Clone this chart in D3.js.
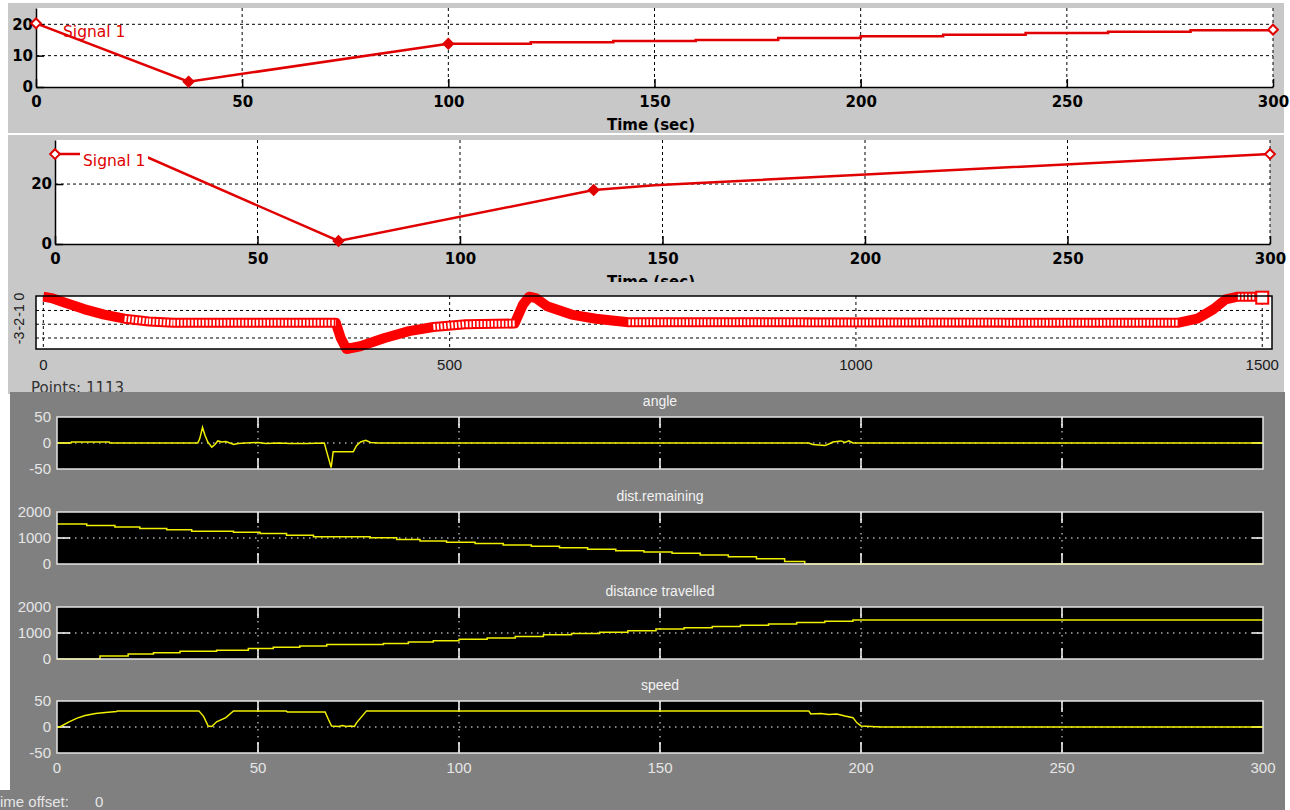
<!DOCTYPE html>
<html>
<head>
<meta charset="utf-8">
<script src="https://cdn.jsdelivr.net/npm/d3@7"></script>
<style>
body { margin: 0; background: #fff; }
svg { display: block; font-family: "Liberation Sans", Arial, sans-serif; }
</style>
</head>
<body>
<svg id="chart" width="1290" height="810"></svg>
<script>
// ---- signal builder, group 1 ----
var grp1Ramp = [[0, 20.3], [37, 1.7], [100, 13.8]];
var grp1Steps = [[100, 13.8], [120, 14.3], [140, 14.7], [160, 15.0], [180, 15.6], [200, 16.2],
    [220, 16.7], [240, 17.2], [260, 17.6], [280, 18.1], [300, 18.3]];
var grp1Marks = [[0, 20.3, "open"], [37, 1.7, "fill"], [100, 13.8, "fill"], [300, 18.3, "open"]];

// ---- signal builder, group 2 ----
var grp2Line = [[0, 30], [21, 30], [70, 1], [133, 18], [148, 19.6], [300, 30]];
var grp2Marks = [[0, 30, "open"], [70, 1, "fill"], [133, 18, "fill"], [300, 30, "open"]];

// ---- plot of 1113 points ----
var pointsLine = [[0, 0], [10, -0.1], [25, -0.4], [50, -0.9], [75, -1.3], [100, -1.6], [130, -1.8],
    [160, -1.9], [360, -1.9], [366, -3], [373, -3.8], [390, -3.6], [420, -3.0], [450, -2.5],
    [480, -2.2], [520, -2.0], [580, -1.95], [590, -0.6], [598, 0], [606, -0.1], [620, -0.7],
    [650, -1.3], [680, -1.6], [720, -1.85], [1396, -1.9], [1420, -1.6], [1440, -0.9],
    [1455, -0.2], [1470, 0], [1500, 0]];

// ---- scope signals ----
var angleData = [[0, 0], [3.5, 0], [3.6, 2], [13, 2], [13.1, 0], [35, 0], [35.5, 8], [36.2, 30],
    [36.8, 15], [37.5, 2], [38.5, -8], [39.3, -3], [40, 4], [41, 2], [42, 3], [43, 0], [44, -3],
    [45, -1], [47, 0], [50, 1], [52, -1], [55, 0], [58, -1], [62, -1], [66.5, 0], [67.2, -20],
    [68.2, -47], [68.7, -17], [73.7, -17], [74.5, -5], [75.5, 2], [76.8, 5], [78, 1], [80, 0],
    [187, 0], [188, -3], [191, -5], [192, -2], [193, 2], [195, 4], [196, 1], [197, 4], [198, 0], [300, 0]];
var remainData = [[0, 1535], [7.4, 1483], [14.4, 1423], [20.6, 1370], [27.3, 1321], [33.5, 1257],
    [43.9, 1219], [50.5, 1170], [57.1, 1106], [63.8, 1045], [77.9, 1008], [84.5, 943], [90.3, 880],
    [96.9, 840], [104, 790], [111, 735], [118, 680], [125, 625], [132, 565], [139, 510], [146, 465],
    [153, 415], [160, 350], [167, 280], [174, 200], [181, 100], [186, 0], [300, 0]];
var travelData = [[0, 0], [10.7, 113], [17.7, 189], [24, 238], [30.6, 302], [39.7, 340], [47.6, 404],
    [53.8, 453], [60.4, 502], [67.1, 555], [81.2, 592], [87.4, 653], [93.6, 705], [100, 760],
    [107, 810], [114, 870], [121, 930], [128, 980], [135, 1030], [142, 1090], [149, 1150],
    [156, 1200], [163, 1250], [170, 1300], [177, 1350], [184, 1400], [191, 1450], [198, 1500], [300, 1500]];
var speedData = [[0, 0], [0.7, 0], [3, 10], [5, 17], [7, 22], [9.6, 26], [12, 28], [14.8, 30], [15, 31],
    [35.3, 31], [36.5, 20], [37.6, 2], [38.5, 1], [39.7, 10], [42, 18], [43.9, 31], [57, 31],
    [57.3, 29], [66.7, 29], [67.5, 15], [68.3, 2], [70, 1], [71, 3], [72, 1], [73, 2], [74, 1],
    [74.5, 8], [77, 31], [187, 31], [187.5, 25], [190, 26], [192, 24], [194, 25], [196, 21],
    [198, 18], [199, 8], [200, 2], [205, 0], [300, 0]];

var timeTicks = [0, 50, 100, 150, 200, 250, 300];

var svg = d3.select("#chart");
var boldFont = "DejaVu Sans, Verdana, sans-serif";

// ================= signal builder panels =================
function builderPanel(o) {
    var g = svg.append("g");
    g.append("rect").attr("x", 8).attr("y", o.bgTop).attr("width", 1276).attr("height", o.bgH)
        .attr("fill", "#c8c8c8");
    g.append("rect").attr("x", o.x0).attr("y", o.yTop).attr("width", o.x1 - o.x0)
        .attr("height", o.yBot - o.yTop).attr("fill", "#fff");

    var x = d3.scaleLinear().domain([0, 300]).range([o.x0, o.x1]);
    var y = d3.scaleLinear().domain(o.yDom).range([o.yBot, o.yTop]);

    // dashed grid
    g.selectAll(".vg").data(timeTicks.slice(1)).enter().append("line")
        .attr("x1", x).attr("x2", x).attr("y1", o.yTop).attr("y2", o.yBot)
        .attr("stroke", "#000").attr("stroke-dasharray", "3,3");
    g.selectAll(".hg").data(o.yTicks.slice(1)).enter().append("line")
        .attr("x1", o.x0).attr("x2", o.x1).attr("y1", y).attr("y2", y)
        .attr("stroke", "#000").attr("stroke-dasharray", "3,3");

    var xAxis = g.append("g").attr("transform", "translate(0," + o.yBot + ")")
        .call(d3.axisBottom(x).tickValues(timeTicks).tickSize(-8).tickSizeOuter(0).tickPadding(9));
    var yAxis = g.append("g").attr("transform", "translate(" + o.x0 + ",0)")
        .call(d3.axisLeft(y).tickValues(o.yTicks).tickSize(-8).tickSizeOuter(0).tickPadding(3));
    [xAxis, yAxis].forEach(function (a) {
        a.select(".domain").attr("stroke", "#000").attr("stroke-width", 1.5);
        a.selectAll(".tick line").attr("stroke", "#000").attr("stroke-width", 1.5);
        a.selectAll("text").attr("fill", "#000").attr("font-size", 15).attr("font-weight", "bold")
            .attr("font-family", boldFont);
    });

    g.append("text").attr("x", 651).attr("y", o.yBot + 43).attr("text-anchor", "middle")
        .attr("font-family", boldFont).attr("font-size", 15).attr("font-weight", "bold").text("Time (sec)");

    return { g: g, x: x, y: y };
}

function drawMarks(p, marks) {
    p.g.selectAll(".mk").data(marks).enter().append("path")
        .attr("transform", function (d) { return "translate(" + p.x(d[0]) + "," + p.y(d[1]) + ")"; })
        .attr("d", d3.symbol(d3.symbolDiamond2, 60))
        .attr("fill", function (d) { return d[2] == "open" ? "#fff" : "#e00000"; })
        .attr("stroke", "#e00000").attr("stroke-width", 2);
}

// group 1
var p1 = builderPanel({ bgTop: 3, bgH: 130, x0: 36, x1: 1273, yTop: 8, yBot: 87,
    yDom: [0, 25.2], yTicks: [0, 10, 20] });
var line1 = d3.line().x(function (d) { return p1.x(d[0]); }).y(function (d) { return p1.y(d[1]); });
p1.g.append("path").attr("d", line1(grp1Ramp)).attr("fill", "none")
    .attr("stroke", "#e00000").attr("stroke-width", 2.5);
p1.g.append("path").attr("d", line1.curve(d3.curveStepAfter)(grp1Steps)).attr("fill", "none")
    .attr("stroke", "#e00000").attr("stroke-width", 2.5);
drawMarks(p1, grp1Marks);
p1.g.append("text").attr("x", 63).attr("y", 37).attr("fill", "#e00000").attr("font-size", 15.5)
    .attr("font-family", "DejaVu Sans, sans-serif").text("Signal 1");

// group 2
var p2 = builderPanel({ bgTop: 135, bgH: 150, x0: 55, x1: 1270, yTop: 140, yBot: 244,
    yDom: [0, 34.7], yTicks: [0, 20] });
var line2 = d3.line().x(function (d) { return p2.x(d[0]); }).y(function (d) { return p2.y(d[1]); });
p2.g.append("path").attr("d", line2(grp2Line)).attr("fill", "none")
    .attr("stroke", "#e00000").attr("stroke-width", 2.5);
p2.g.append("rect").attr("x", 80).attr("y", 150).attr("width", 68).attr("height", 20).attr("fill", "#fff");
drawMarks(p2, grp2Marks);
p2.g.append("text").attr("x", 83).attr("y", 166).attr("fill", "#e00000").attr("font-size", 15.5)
    .attr("font-family", "DejaVu Sans, sans-serif").text("Signal 1");

// ================= points plot =================
var g3 = svg.append("g");
g3.append("rect").attr("x", 8).attr("y", 282).attr("width", 1276).attr("height", 112).attr("fill", "#c8c8c8");
var x3 = d3.scaleLinear().domain([-9, 1512]).range([36, 1272]);
var y3 = d3.scaleLinear().domain([-3.8, 0.05]).range([349, 296]);
g3.append("rect").attr("x", 36).attr("y", 296).attr("width", 1236).attr("height", 53).attr("fill", "#fff");
g3.selectAll(".vg").data([0, 500, 1000, 1500]).enter().append("line")
    .attr("x1", x3).attr("x2", x3).attr("y1", 296).attr("y2", 349)
    .attr("stroke", "#000").attr("stroke-dasharray", "3,3");
g3.selectAll(".hg").data([-1, -2, -3]).enter().append("line")
    .attr("x1", 36).attr("x2", 1272).attr("y1", y3).attr("y2", y3)
    .attr("stroke", "#000").attr("stroke-dasharray", "3,3");

var line3 = d3.line().x(function (d) { return x3(d[0]); }).y(function (d) { return y3(d[1]); });
g3.append("path").attr("d", line3(pointsLine)).attr("fill", "none")
    .attr("stroke", "#ff0000").attr("stroke-width", 10).attr("stroke-linejoin", "round");
// hatched look of the square markers on the flat stretches
var flat = [];
pointsLine.forEach(function (d, i) {
    if (i == 0) return;
    var a = pointsLine[i - 1];
    if (Math.abs(y3(d[1]) - y3(a[1])) < 3 && x3(d[0]) - x3(a[0]) > 20) flat.push([a, d]);
});
g3.selectAll(".hatch").data(flat).enter().append("path")
    .attr("d", function (d) { return line3(d); }).attr("fill", "none")
    .attr("stroke", "#fff").attr("stroke-width", 6).attr("stroke-dasharray", "2,1.6");
var last = pointsLine[pointsLine.length - 1];
g3.append("rect").attr("x", x3(last[0]) - 6).attr("y", y3(last[1]) - 5).attr("width", 12).attr("height", 12)
    .attr("fill", "#fff").attr("stroke", "#ff0000").attr("stroke-width", 2);

g3.append("rect").attr("x", 36).attr("y", 296).attr("width", 1236).attr("height", 53)
    .attr("fill", "none").attr("stroke", "#000").attr("stroke-width", 1.5);
g3.selectAll(".xt").data([0, 500, 1000, 1500]).enter().append("text")
    .attr("x", x3).attr("y", 370).attr("text-anchor", "middle").attr("font-size", 15).attr("fill", "#1a1a1a")
    .text(function (d) { return d; });
g3.selectAll(".yt").data([0, -1, -2, -3]).enter().append("text")
    .attr("transform", function (d) { return "translate(19," + y3(d) + ") rotate(-90)"; })
    .attr("text-anchor", "middle").attr("dy", "0.35em").attr("font-size", 14).attr("fill", "#1a1a1a")
    .text(function (d) { return d; });
g3.append("text").attr("x", 31).attr("y", 393).attr("font-size", 15).attr("fill", "#333")
    .attr("font-family", "DejaVu Sans, sans-serif").text("Points: 1113");

// ================= scope =================
svg.append("rect").attr("x", 10).attr("y", 392).attr("width", 1275).attr("height", 418).attr("fill", "#808080");
svg.append("rect").attr("x", 0).attr("y", 790).attr("width", 10).attr("height", 20).attr("fill", "#808080");

var xs = d3.scaleLinear().domain([0, 300]).range([57, 1263]);

function scopePanel(title, top, yDom, yTicks, gridY, data, stepped) {
    var g = svg.append("g");
    var bot = top + 52;
    var y = d3.scaleLinear().domain(yDom).range([bot, top]);
    g.append("text").attr("x", 660).attr("y", top - 11).attr("text-anchor", "middle")
        .attr("font-size", 14).attr("fill", "#f2f2f2").text(title);
    g.append("rect").attr("x", 57).attr("y", top).attr("width", 1206).attr("height", 52).attr("fill", "#000");
    // dotted grid
    g.selectAll(".vg").data(timeTicks.slice(1, -1)).enter().append("line")
        .attr("x1", xs).attr("x2", xs).attr("y1", top).attr("y2", bot)
        .attr("stroke", "#fff").attr("stroke-dasharray", "1.5,5.5");
    g.append("line").attr("x1", 57).attr("x2", 1263).attr("y1", y(gridY)).attr("y2", y(gridY))
        .attr("stroke", "#fff").attr("stroke-dasharray", "1.5,4.5");
    // inward ticks
    timeTicks.slice(1, -1).forEach(function (t) {
        g.append("line").attr("x1", xs(t)).attr("x2", xs(t)).attr("y1", top).attr("y2", top + 11)
            .attr("stroke", "#fff").attr("stroke-width", 1.5);
        g.append("line").attr("x1", xs(t)).attr("x2", xs(t)).attr("y1", bot - 11).attr("y2", bot)
            .attr("stroke", "#fff").attr("stroke-width", 1.5);
    });
    g.append("line").attr("x1", 57).attr("x2", 70).attr("y1", y(gridY)).attr("y2", y(gridY))
        .attr("stroke", "#fff").attr("stroke-width", 1.5);
    g.append("line").attr("x1", 1252).attr("x2", 1263).attr("y1", y(gridY)).attr("y2", y(gridY))
        .attr("stroke", "#fff").attr("stroke-width", 1.5);

    var line = d3.line().x(function (d) { return xs(d[0]); }).y(function (d) { return y(d[1]); });
    if (stepped) line.curve(d3.curveStepAfter);
    g.append("path").attr("d", line(data)).attr("fill", "none")
        .attr("stroke", "#f0f000").attr("stroke-width", 1.5);

    g.append("rect").attr("x", 57).attr("y", top).attr("width", 1206).attr("height", 52)
        .attr("fill", "none").attr("stroke", "#e4e4e4").attr("stroke-width", 1.5);
    g.selectAll(".yt").data(yTicks).enter().append("text")
        .attr("x", 51).attr("y", y).attr("dy", "0.36em").attr("text-anchor", "end")
        .attr("font-size", 15).attr("fill", "#e6e6e6").text(function (d) { return d; });
    return g;
}

scopePanel("angle", 417, [-50, 50], [50, 0, -50], 0, angleData, false);
scopePanel("dist.remaining", 512, [0, 2000], [2000, 1000, 0], 1000, remainData, true);
scopePanel("distance travelled", 607, [0, 2000], [2000, 1000, 0], 1000, travelData, true);
scopePanel("speed", 701, [-50, 50], [50, 0, -50], 0, speedData, false);

svg.selectAll(".st").data(timeTicks).enter().append("text")
    .attr("x", xs).attr("y", 773).attr("text-anchor", "middle")
    .attr("font-size", 15).attr("fill", "#e6e6e6").text(function (d) { return d; });
svg.append("text").attr("x", 0).attr("y", 807).attr("font-size", 15).attr("fill", "#e6e6e6").text("ime offset:");
svg.append("text").attr("x", 95).attr("y", 807).attr("font-size", 15).attr("fill", "#e6e6e6").text("0");
</script>
</body>
</html>
